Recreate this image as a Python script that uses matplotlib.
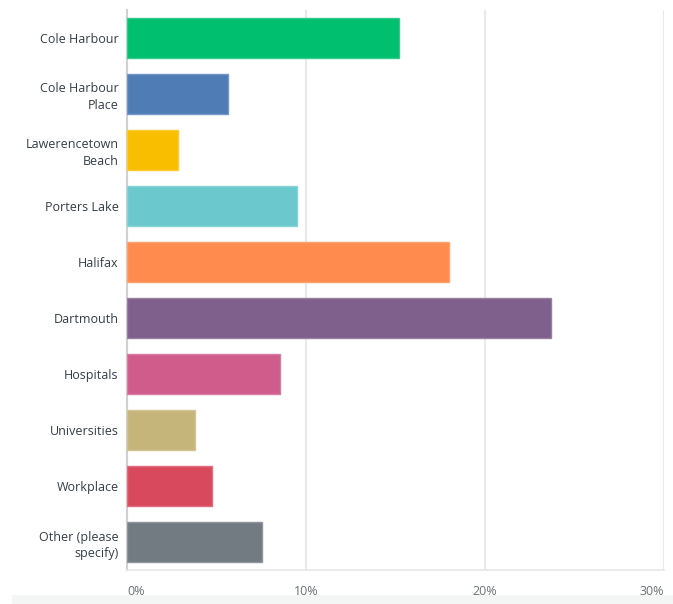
import matplotlib
matplotlib.use("Agg")
import matplotlib.pyplot as plt
from matplotlib.patches import Rectangle

categories = ["Cole Harbour", "Cole Harbour\nPlace", "Lawerencetown\nBeach", "Porters Lake",
              "Halifax", "Dartmouth", "Hospitals", "Universities", "Workplace",
              "Other (please\nspecify)"]
values = [15.2, 5.66, 2.85, 9.5, 18.0, 23.7, 8.57, 3.78, 4.73, 7.56]
colors = ["#00BF6F", "#507CB6", "#F9BE00", "#6BC8CD", "#FF8B4F", "#7F5F8B",
          "#D05C8C", "#C5B57B", "#D9495E", "#737B82"]
edge_colors = ["#33CC8C", "#7396C5", "#FACB33", "#89D3D7", "#FFA272", "#997FA2",
               "#D97DA3", "#D1C495", "#E16D7E", "#8F959B"]
xticks = [0, 10, 20, 30]
xticklabels = ["0%", "10%", "20%", "30%"]

plt.rcParams['font.family'] = ['Open Sans', 'DejaVu Sans']

W, H = 673, 604
fig = plt.figure(figsize=(W / 100, H / 100), dpi=100)
fig.patch.set_facecolor("white")
fig.add_artist(Rectangle((12 / W, 0), 1, 9 / H, transform=fig.transFigure,
                         facecolor="#F4F5F5", edgecolor="none", zorder=0))

ax = fig.add_axes([127 / W, (H - 570) / H, (664 - 127) / W, (570 - 10) / H])
ypos = list(range(len(categories)))
ax.barh(ypos, values, height=40 / 56, color=colors, edgecolor=edge_colors,
        linewidth=1.0, zorder=3)
ax.set_ylim(len(categories) - 0.5, -0.5)
ax.set_xlim(0, 30)

for x in xticks[1:]:
    ax.axvline(x, color="#E9E9E9", linewidth=1.5, zorder=1)

for s in ["top", "right"]:
    ax.spines[s].set_visible(False)
ax.spines["left"].set_color("#D0D0D0")
ax.spines["left"].set_linewidth(1.5)
ax.spines["bottom"].set_color("#E6E6E6")
ax.spines["bottom"].set_linewidth(1.2)

ax.set_yticks(ypos)
ax.set_yticklabels(categories, fontsize=9, color="#333E48", linespacing=1.35)
ax.tick_params(axis="y", length=0, pad=6)

ax.set_xticks(xticks)
ax.set_xticklabels(xticklabels, fontsize=9, color="#6B7176")
ax.tick_params(axis="x", length=0, pad=11)
labs = ax.get_xticklabels()
labs[0].set_ha("left")
labs[-1].set_ha("right")

fig.savefig("out.png", dpi=100, facecolor="white")
